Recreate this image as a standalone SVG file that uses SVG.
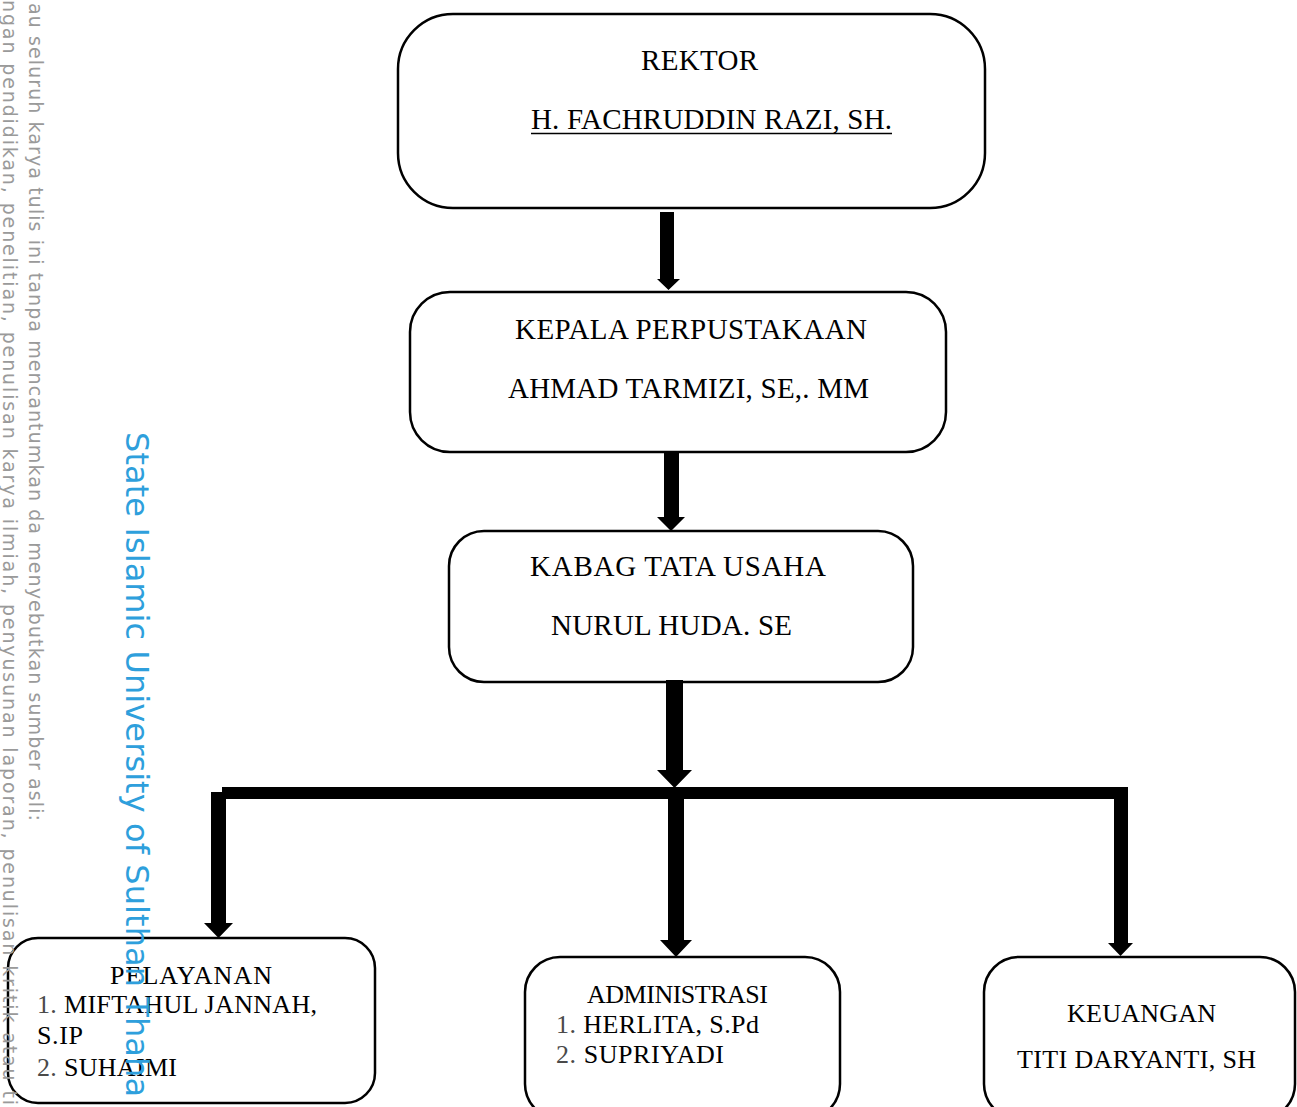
<svg xmlns="http://www.w3.org/2000/svg" width="1297" height="1107" viewBox="0 0 1297 1107">
<style>
.box{fill:#fff;stroke:#000;stroke-width:2.5}
.t{font-family:"Liberation Serif","Times New Roman",serif;fill:#000}
.big{font-size:29px}
.sm{font-size:26px}
.num{fill:#4a4a4a}
.arrow{fill:#000;stroke:none}
.wm{font-family:"DejaVu Sans","Liberation Sans",sans-serif}
.gray{fill:#9a9a9a;font-size:19px}
.blue{fill:#2e9fdc;font-size:32px}
</style>
<rect width="1297" height="1107" fill="#fff"/>
<g id="node-rektor">
<rect class="box" x="398" y="14" width="587" height="194" rx="55"/>
<text class="t big" x="699.5" y="70" text-anchor="middle" textLength="117">REKTOR</text>
<text class="t big" x="711.5" y="129" text-anchor="middle" textLength="361">H. FACHRUDDIN RAZI, SH.</text>
<line x1="531" y1="133.5" x2="892" y2="133.5" stroke="#000" stroke-width="1.5"/>
</g>
<g id="node-kepala">
<rect class="box" x="410" y="292" width="536" height="160" rx="40"/>
<text class="t big" x="691" y="339" text-anchor="middle" textLength="352">KEPALA PERPUSTAKAAN</text>
<text class="t big" x="688.5" y="398" text-anchor="middle" textLength="361">AHMAD TARMIZI, SE,. MM</text>
</g>
<g id="node-kabag">
<rect class="box" x="449" y="531" width="464" height="151" rx="35"/>
<text class="t big" x="678" y="576" text-anchor="middle" textLength="296">KABAG TATA USAHA</text>
<text class="t big" x="671.5" y="635" text-anchor="middle" textLength="241">NURUL HUDA. SE</text>
</g>
<g id="node-pelayanan">
<rect class="box" x="8" y="938" width="367" height="165" rx="30"/>
<text class="t sm" x="191" y="984" text-anchor="middle" textLength="162">PELAYANAN</text>
<text class="t sm" x="37" y="1013" textLength="280"><tspan class="num">1.</tspan> MIFTAHUL JANNAH,</text>
<text class="t sm" x="37" y="1044" textLength="46">S.IP</text>
<text class="t sm" x="37" y="1076" textLength="140"><tspan class="num">2.</tspan> SUHAIMI</text>
</g>
<g id="node-administrasi">
<rect class="box" x="525" y="957" width="315" height="162" rx="35"/>
<text class="t sm" x="677.5" y="1003" text-anchor="middle" textLength="181">ADMINISTRASI</text>
<text class="t sm" x="556" y="1033" textLength="203"><tspan class="num">1.</tspan> HERLITA, S.Pd</text>
<text class="t sm" x="556" y="1063" textLength="168"><tspan class="num">2.</tspan> SUPRIYADI</text>
</g>
<g id="node-keuangan">
<rect class="box" x="984" y="957" width="311" height="162" rx="35"/>
<text class="t sm" x="1141.5" y="1022" text-anchor="middle" textLength="149">KEUANGAN</text>
<text class="t sm" x="1136.5" y="1068" text-anchor="middle" textLength="239">TITI DARYANTI, SH</text>
</g>
<g id="connectors">
<path class="arrow" d="M660 212H674V279H680L668.5 290L657 279H660Z"/>
<path class="arrow" d="M664 451H679V517H685L671 531L657 517H664Z"/>
<path class="arrow" d="M666 680H683V770H692L674.5 788L657 770H666Z"/>
<rect class="arrow" x="222" y="787" width="906" height="12"/>
<path class="arrow" d="M211 792H226V923H233L218.5 938L204 923H211Z"/>
<path class="arrow" d="M668 799H684V940H692L676 957L660 940H668Z"/>
<path class="arrow" d="M1114 787H1128V943H1133L1120.5 956L1108 943H1114Z"/>
</g>
<g id="watermark" class="wm">
<text class="gray" transform="translate(29,3) rotate(90)" textLength="818">au seluruh karya tulis ini tanpa mencantumkan da menyebutkan sumber asli:</text>
<text class="gray" transform="translate(3,0) rotate(90)" textLength="1105">ngan pendidikan, penelitian, penulisan karya ilmiah, penyusunan laporan, penulisan kritik atau ti</text>
<text class="blue" transform="translate(126,432) rotate(90)" textLength="665">State Islamic University of Sulthan Thaha</text>
</g>
</svg>
